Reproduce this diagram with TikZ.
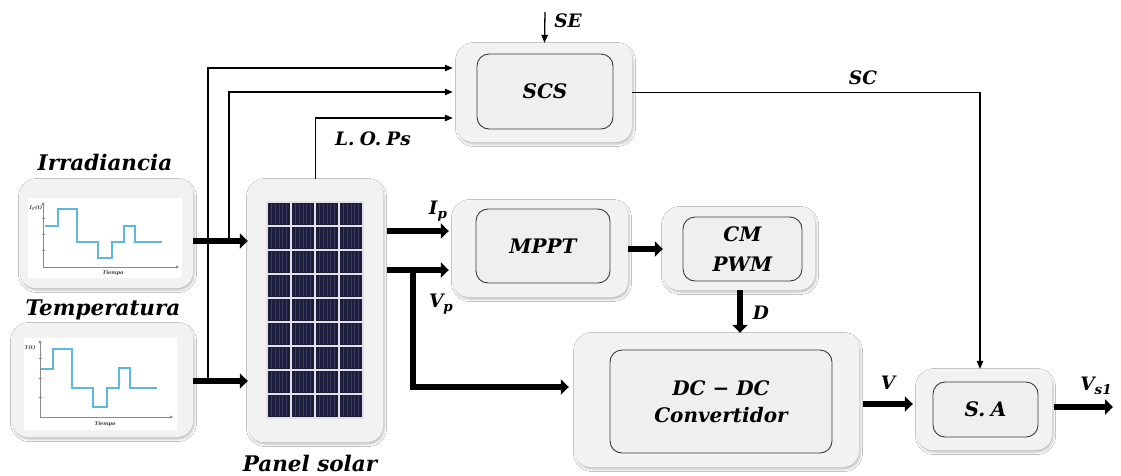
\documentclass[tikz,border=0pt]{standalone}
\usepackage{fontspec}
\setmainfont{DejaVu Serif}
\usetikzlibrary{arrows.meta,shadows.blur}

\definecolor{boxfill}{HTML}{F2F2F2}
\definecolor{innerfill}{HTML}{EFEFEF}
\definecolor{innerline}{HTML}{3A3A3A}
\definecolor{sigblue}{HTML}{5DB7E0}
\definecolor{cellnavy}{HTML}{1C1D3D}
\definecolor{cellline}{HTML}{3A3C5E}
\definecolor{panelframe}{HTML}{E2E2E6}
\definecolor{axisgray}{HTML}{8A8A8A}

% fonts for the block texts, titles and signal labels
\newcommand\blocklbl{\fontsize{20}{28}\selectfont\bfseries\itshape}
\newcommand\titlelbl{\fontsize{21.5}{24}\selectfont\bfseries\itshape}
\newcommand\siglbl{\fontsize{18.5}{21}\selectfont\bfseries\itshape}
\newcommand\lowidx[1]{\raisebox{-0.45ex}{\fontsize{13.5}{14}\selectfont #1}}

\tikzset{
  outerbox/.style={rectangle, rounded corners=16pt, fill=boxfill, draw=none,
    inner sep=0pt,
    blur shadow={shadow xshift=1pt, shadow yshift=-2pt,
      shadow blur radius=2.5pt, shadow opacity=28}},
  innerbox/.style={rectangle, rounded corners=12pt, fill=innerfill,
    draw=innerline, line width=0.9pt, inner sep=0pt, align=center,
    font=\blocklbl},
  sig/.style={line width=1.3pt, -{Triangle[length=8pt,width=6.5pt]}},
  power/.style={line width=6.5pt, -{Triangle[length=8pt,width=15pt]}},
  axisline/.style={draw=axisgray, line width=0.7pt,
    -{Triangle[length=3pt,width=3pt]}},
  signal/.style={draw=sigblue, line width=1.2pt},
  tinytext/.style={font=\fontsize{5}{5}\selectfont\bfseries\itshape,
    text=black!75, inner sep=0pt},
}

\begin{document}
\begin{tikzpicture}[x=1pt,y=-1pt]
\useasboundingbox (0,0) rectangle (1121,475);
\fill[white] (0,0) rectangle (1121,475);

% ---- outer blocks ----
\node[outerbox, minimum width=173pt, minimum height=109pt] (irr) at (106.5,233.5) {};
\node[outerbox, minimum width=181pt, minimum height=114pt] (tmp) at (102.5,380) {};
\node[outerbox, minimum width=135pt, minimum height=263pt] (pv) at (315.5,310.5) {};
\node[outerbox, minimum width=175pt, minimum height=99pt] (scsO) at (544.5,92.5) {};
\node[outerbox, minimum width=175pt, minimum height=97pt] (mpptO) at (540.5,248.5) {};
\node[outerbox, minimum width=152pt, minimum height=83pt] (cmO) at (739,248.5) {};
\node[outerbox, minimum width=284pt, minimum height=134pt] (dcO) at (717,400) {};
\node[outerbox, minimum width=135pt, minimum height=81pt] (saO) at (984.5,409.5) {};

% ---- inner blocks ----
\node[innerbox, minimum width=136pt, minimum height=75pt] (scs) at (545,91.5) {SCS};
\node[innerbox, minimum width=134pt, minimum height=74pt] (mppt) at (543,246) {MPPT};
\node[innerbox, minimum width=119pt, minimum height=64pt,
      font=\fontsize{20}{30}\selectfont\bfseries\itshape] (cm) at (742.5,249) {CM\\PWM};
\node[innerbox, minimum width=222pt, minimum height=103pt,
      font=\fontsize{20}{27}\selectfont\bfseries\itshape] (dc) at (721,401.5) {DC − DC\\Convertidor};
\node[innerbox, minimum width=105pt, minimum height=55pt] (sa) at (985.5,409.5) {S.\;A};

% ---- irradiance profile ----
\fill[white] (28,198) rectangle (182,278);
\draw[axisline] (43,267) -- (43,202);
\draw[axisline] (43,267) -- (179,267);
\foreach \t in {218,234,250} \draw[axisgray, line width=0.6pt] (41.5,\t) -- (44.5,\t);
\draw[signal] (45,226) -- (58,226) -- (58,209) -- (77,209) -- (77,242) -- (98,242)
  -- (98,258) -- (112,258) -- (112,242) -- (124,242) -- (124,226) -- (135,226)
  -- (135,242) -- (162,242);
\node[tinytext] (irrax) at (36,208) {I\textsubscript{r}(t)};
\node[tinytext] (irrt) at (113,273) {Tiempo};

% ---- temperature profile ----
\fill[white] (24,338) rectangle (177,430);
\draw[axisline] (40,417) -- (40,340);
\draw[axisline] (40,417) -- (173,417);
\foreach \t in {358,378,397} \draw[axisgray, line width=0.6pt] (38.5,\t) -- (41.5,\t);
\draw[signal] (41,369) -- (53,369) -- (53,349) -- (72,349) -- (72,388) -- (93,388)
  -- (93,407) -- (107,407) -- (107,388) -- (119,388) -- (119,368) -- (130,368)
  -- (130,388) -- (157,388);
\node[tinytext] (tmpax) at (30,348) {T(t)};
\node[tinytext] (tmpt) at (105,424) {Tiempo};

% ---- solar panel: 4 x 9 cells ----
\fill[panelframe] (266,201) rectangle (364,419);
\foreach \c in {0,...,3} {
  \foreach \r in {0,...,8} {
    \fill[cellnavy] ({268+\c*24},{203+\r*24}) rectangle ++(22,22);
    \foreach \s in {1,...,5}
      \draw[cellline, line width=0.5pt] ({268+\c*24+\s*22/6},{204+\r*24}) -- ++(0,20);
  }
}

% ---- titles ----
\node[font=\titlelbl] (irrtitle) at (105,162) {Irradiancia};
\node[font=\titlelbl] (tmptitle) at (103,310) {Temperatura};
\node[font=\titlelbl] (pvtitle) at (310,463) {Panel solar};

% ---- signal connectors ----
\coordinate (seStart) at (545,12);
\draw[sig] (seStart) -- (scsO.north);
\draw[sig, shorten >=4pt] (208,381) |- (scsO.west |- 0,68);
\draw[sig, shorten >=4pt] (229,241) |- (scsO.west |- 0,92);
\draw[sig, shorten >=4pt] (pv.north) |- (scsO.west |- 0,118);
\draw[sig] (scsO.east) -| (saO.north -| 980,0);

% ---- power connectors ----
\draw[power] (irr.east |- 0,241) -- (pv.west |- 0,241);
\draw[power] (tmp.east |- 0,381) -- (pv.west |- 0,381);
\draw[power, shorten <=4pt, shorten >=4pt] (pv.east |- 0,231) -- (mpptO.west |- 0,231);
\draw[power, shorten <=4pt, shorten >=4pt] (pv.east |- 0,270) -- (mpptO.west |- 0,270);
\draw[power, shorten >=6pt] (413,270) |- (dcO.west |- 0,387);
\draw[power] (mpptO.east |- 0,249) -- (cmO.west |- 0,249);
\draw[power] (cmO.south -| 740,0) -- (dcO.north -| 740,0);
\draw[power, shorten <=4pt, shorten >=4pt] (dcO.east |- 0,404) -- (saO.west |- 0,404);
\coordinate (vsEnd) at (1113,407);
\draw[power, shorten <=2pt] (saO.east |- vsEnd) -- (vsEnd);

% ---- signal labels ----
\node[font=\siglbl] (selbl) at (568,21) {SE};
\node[font=\siglbl] (lopslbl) at (373,139) {L.\;O.\;Ps};
\node[font=\siglbl] (sclbl) at (863,78) {SC};
\node[font=\siglbl] (iplbl) at (438,211) {I\lowidx{p}};
\node[font=\siglbl] (vplbl) at (441,304) {V\lowidx{p}};
\node[font=\siglbl] (dlbl) at (761,313) {D};
\node[font=\siglbl] (vlbl) at (888,383) {V};
\node[font=\siglbl] (vslbl) at (1096,386) {V\lowidx{s1}};
\end{tikzpicture}
\end{document}
